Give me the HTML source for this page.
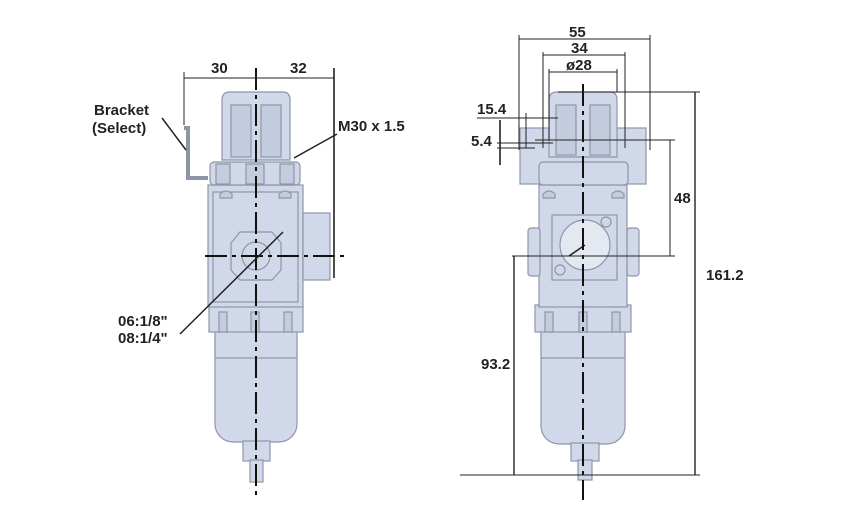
<!DOCTYPE html>
<html><head><meta charset="utf-8"><style>
html,body{margin:0;padding:0;background:#fff}
svg{display:block}
text{font-family:"Liberation Sans",Arial,sans-serif;font-weight:bold;font-size:15px;fill:#222}
.b{fill:#d1d8ea;stroke:#8e95a6;stroke-width:1.2}
.d{fill:#c4cde0;stroke:#8e95a6;stroke-width:1.2}
.l{stroke:#222;stroke-width:1;fill:none}
.c{stroke:#111;stroke-width:2;stroke-dasharray:22 5 4 5;fill:none}
</style></head><body>
<svg width="867" height="520" viewBox="0 0 867 520">
<!-- LEFT VIEW -->
<g>
<rect class="b" x="215" y="318" width="82" height="124" rx="18"/>
<rect class="b" x="215" y="318" width="82" height="40"/>
<rect class="b" x="209" y="305" width="94" height="27"/>
<rect class="d" x="219" y="312" width="8" height="20"/><rect class="d" x="251" y="312" width="8" height="20"/><rect class="d" x="284" y="312" width="8" height="20"/>
<rect class="b" x="243" y="441" width="27" height="20"/>
<rect class="b" x="250" y="460" width="13" height="22"/>
<rect class="b" x="208" y="185" width="95" height="122"/>
<rect class="b" x="213" y="192" width="85" height="110"/>
<rect class="b" x="303" y="213" width="27" height="67"/>
<path class="b" d="M240 232 L272 232 L281 243 L281 270 L272 280 L240 280 L231 270 L231 243 Z"/>
<circle class="b" cx="256" cy="256" r="14"/>
<rect class="b" x="210" y="162" width="90" height="23" rx="4"/>
<rect class="d" x="216" y="164" width="14" height="20"/><rect class="d" x="246" y="164" width="18" height="20"/><rect class="d" x="280" y="164" width="14" height="20"/>
<path class="b" d="M222 160 L222 100 Q222 92 230 92 L283 92 Q290 92 290 100 L290 160 Z"/>
<rect class="d" x="231" y="105" width="20" height="52"/><rect class="d" x="261" y="105" width="20" height="52"/>
<path class="d" d="M220 194 Q226 188 232 194 L232 198 L220 198 Z"/><path class="d" d="M279 194 Q285 188 291 194 L291 198 L279 198 Z"/>
<polyline points="184,128 188,128 188,178 208,178" style="fill:none;stroke:#8e95a6;stroke-width:4"/>
<line class="c" x1="256" y1="68" x2="256" y2="496"/>
<line class="c" x1="205" y1="256" x2="346" y2="256"/>
<line class="l" x1="184" y1="78" x2="334" y2="78"/>
<line class="l" x1="184" y1="72" x2="184" y2="125"/>
<line class="l" x1="334" y1="68" x2="334" y2="278" style="stroke-width:1.6"/>
<line class="l" x1="256" y1="72" x2="256" y2="84"/>
<text x="211" y="73">30</text><text x="290" y="73">32</text>
<text x="94" y="115">Bracket</text><text x="92" y="133">(Select)</text>
<line class="l" x1="162" y1="118" x2="186" y2="150" style="stroke-width:1.5"/>
<text x="338" y="131">M30 x 1.5</text>
<line class="l" x1="337" y1="134" x2="294" y2="158" style="stroke-width:1.5"/>
<text x="118" y="326">06:1/8"</text><text x="118" y="343">08:1/4"</text>
<line class="l" x1="180" y1="334" x2="283" y2="232" style="stroke-width:1.5"/>
</g>
<!-- RIGHT VIEW -->
<g>
<rect class="b" x="541" y="318" width="84" height="126" rx="18"/>
<rect class="b" x="541" y="318" width="84" height="40"/>
<rect class="b" x="535" y="305" width="96" height="27"/>
<rect class="d" x="545" y="312" width="8" height="20"/><rect class="d" x="579" y="312" width="8" height="20"/><rect class="d" x="612" y="312" width="8" height="20"/>
<rect class="b" x="571" y="443" width="28" height="18"/>
<rect class="b" x="578" y="460" width="14" height="20"/>
<rect class="b" x="539" y="185" width="88" height="122"/>
<rect class="b" x="528" y="228" width="12" height="48" rx="3"/>
<rect class="b" x="627" y="228" width="12" height="48" rx="3"/>
<rect class="b" x="552" y="215" width="65" height="65"/>
<circle cx="585" cy="245" r="25" fill="#e4e9f1" stroke="#8e95a6" stroke-width="1.2"/>
<line class="l" x1="585" y1="245" x2="569" y2="256" style="stroke-width:1.5"/>
<circle class="b" cx="606" cy="222" r="5"/><circle class="b" cx="560" cy="270" r="5"/>
<rect class="b" x="520" y="128" width="126" height="56"/>
<rect class="b" x="539" y="162" width="89" height="23" rx="4"/>
<path class="b" d="M549 157 L549 100 Q549 92 557 92 L610 92 Q617 92 617 100 L617 157 Z"/>
<rect class="d" x="556" y="105" width="20" height="50"/><rect class="d" x="590" y="105" width="20" height="50"/>
<path class="d" d="M543 194 Q549 188 555 194 L555 198 L543 198 Z"/><path class="d" d="M612 194 Q618 188 624 194 L624 198 L612 198 Z"/>
<line class="c" x1="583" y1="84" x2="583" y2="500"/>
<!-- dims -->
<line class="l" x1="519" y1="39" x2="650" y2="39"/>
<line class="l" x1="519" y1="35" x2="519" y2="150"/><line class="l" x1="650" y1="35" x2="650" y2="150"/>
<line class="l" x1="543" y1="55" x2="625" y2="55"/>
<line class="l" x1="543" y1="52" x2="543" y2="148"/><line class="l" x1="625" y1="52" x2="625" y2="148"/>
<line class="l" x1="549" y1="72" x2="617" y2="72"/>
<line class="l" x1="549" y1="69" x2="549" y2="140"/><line class="l" x1="617" y1="69" x2="617" y2="92"/>
<text x="569" y="37">55</text><text x="571" y="53">34</text><text x="566" y="70">ø28</text>
<line class="l" x1="558" y1="92" x2="700" y2="92"/>
<line class="l" x1="695" y1="92" x2="695" y2="475" style="stroke-width:1.4"/>
<text x="706" y="280">161.2</text>
<line class="l" x1="535" y1="140" x2="675" y2="140"/>
<line class="l" x1="670" y1="140" x2="670" y2="256"/>
<text x="674" y="203">48</text>
<line class="l" x1="512" y1="256" x2="675" y2="256"/>
<line class="l" x1="514" y1="256" x2="514" y2="475" style="stroke-width:1.4"/>
<text x="481" y="369">93.2</text>
<line class="l" x1="460" y1="475" x2="700" y2="475"/>
<text x="477" y="114">15.4</text>
<line class="l" x1="477" y1="118" x2="558" y2="118"/>
<line class="l" x1="526" y1="113" x2="526" y2="148"/>
<text x="471" y="146">5.4</text>
<line class="l" x1="497" y1="143" x2="553" y2="143"/>
<line class="l" x1="497" y1="148" x2="535" y2="148"/>
<line class="l" x1="500" y1="120" x2="500" y2="165" style="stroke-width:1.6"/>
</g>
</svg>
</body></html>
